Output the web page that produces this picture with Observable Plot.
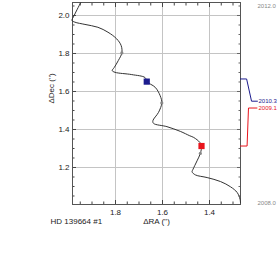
<!DOCTYPE html>
<html><head><meta charset="utf-8">
<script src="https://cdn.jsdelivr.net/npm/d3@7"></script>
<script src="https://cdn.jsdelivr.net/npm/@observablehq/plot@0.6"></script>
<style>body{margin:0;background:#fff} svg{display:block}</style>
</head><body><div id="chart"></div>
<script>
// apparent path of HD 139664 #1 (ΔRA, ΔDec in arcsec)
const pathRA  = [1.948,1.976,1.985,1.973,1.930,1.875,1.832,1.795,1.776,1.773,1.788,1.805,1.814,1.802,1.731,1.674,1.667,1.631,1.610,1.603,1.617,1.641,1.638,1.581,1.524,1.484,1.467,1.441,1.434,1.439,1.453,1.470,1.474,1.460,1.410,1.353,1.310,1.282,1.270,1.268];
const pathDec = [2.068,2.000,1.974,1.965,1.953,1.938,1.912,1.877,1.842,1.803,1.763,1.727,1.710,1.701,1.689,1.673,1.652,1.622,1.578,1.540,1.490,1.446,1.432,1.415,1.390,1.367,1.358,1.332,1.313,1.274,1.235,1.191,1.177,1.161,1.147,1.126,1.098,1.068,1.033,1.014];
// yearly markers
const yearRA  = [1.773,1.603,1.439];
const yearDec = [1.803,1.540,1.274];
// observation epochs
const epochs   = ["2010.3","2009.1"];
const epochRA  = [1.667,1.434];
const epochDec = [1.652,1.313];
const epochColors = ["#1c1c8e","#e8141c"];
const leaderStartDec = [1.666,1.313];
const leaderLabelDec = [1.549,1.513];
const leaderDRA = [[0,0.026,0.047,0.072],[0,0.028,0.034,0.070]];
// time range labels
const timeTop = "2012.0", timeBottom = "2008.0";
// axes
const xDomain = [1.98298, 1.26809];
const yDomain = [1.00526, 2.06842];
const xMajor = [1.8,1.6,1.4];
const xMinor = [1.95,1.9,1.85,1.75,1.7,1.65,1.55,1.5,1.45,1.35,1.3];
const yMajor = [1.2,1.4,1.6,1.8,2.0];
const yMinor = [1.05,1.1,1.15,1.25,1.3,1.35,1.45,1.5,1.55,1.65,1.7,1.75,1.85,1.9,1.95,2.05];
const title = "HD 139664 #1";
const xLabel = "ΔRA ('')";
const yLabel = "ΔDec ('')";

const path = pathRA.map((x,i)=>({x, y:pathDec[i]}));
const years = yearRA.map((x,i)=>({x, y:yearDec[i]}));
const marks = epochs.map((t,i)=>({t, x:epochRA[i], y:epochDec[i], c:epochColors[i]}));
const leaders = [];
epochs.forEach((t,i)=>{
  const ys = [leaderStartDec[i], leaderStartDec[i], leaderLabelDec[i], leaderLabelDec[i]];
  leaderDRA[i].forEach((d,j)=>leaders.push({t, c:epochColors[i], x:xDomain[1]-d, y:ys[j]}));
});
const labels = epochs.map((t,i)=>({t, y:leaderLabelDec[i], c:epochColors[i]}));

const W = 277, H = 269, mL = 72, mR = 37, mT = 2, mB = 65;
const font = "Liberation Sans, Arial, Helvetica, sans-serif";
const fmt = d3.format(".1f");

const chart = Plot.plot({
  width: W, height: H,
  marginLeft: mL, marginRight: mR, marginTop: mT, marginBottom: mB,
  style: {fontFamily: font, fontSize: "8px", color: "#222", background: "#fff", overflow: "visible"},
  x: {domain: xDomain, axis: null},
  y: {domain: yDomain, axis: null},
  marks: [
    Plot.gridX({ticks: xMajor, stroke: "#c4c4c4", strokeOpacity: 1}),
    Plot.gridY({ticks: yMajor, stroke: "#c4c4c4", strokeOpacity: 1}),
    // bottom / left axes with inward ticks
    Plot.axisX({ticks: xMajor, anchor: "bottom", tickSize: -4, tickPadding: 9, label: null, tickFormat: fmt, stroke: "#444", fill: "#222"}),
    Plot.axisX({ticks: xMinor, anchor: "bottom", tickSize: -2.5, label: null, tickFormat: () => "", stroke: "#444"}),
    Plot.axisY({ticks: yMajor, anchor: "left", tickSize: -4, tickPadding: 7, label: null, tickFormat: fmt, stroke: "#444", fill: "#222"}),
    Plot.axisY({ticks: yMinor, anchor: "left", tickSize: -2.5, label: null, tickFormat: () => "", stroke: "#444"}),
    // top / right inward ticks
    Plot.axisX({ticks: xMajor, anchor: "top", tickSize: -4, label: null, tickFormat: () => "", stroke: "#444"}),
    Plot.axisX({ticks: xMinor, anchor: "top", tickSize: -2.5, label: null, tickFormat: () => "", stroke: "#444"}),
    Plot.axisY({ticks: yMajor, anchor: "right", tickSize: -4, label: null, tickFormat: () => "", stroke: "#666"}),
    Plot.axisY({ticks: yMinor, anchor: "right", tickSize: -2.5, label: null, tickFormat: () => "", stroke: "#666"}),
    Plot.frame({stroke: "#555"}),
    Plot.line(path, {x: "x", y: "y", curve: "catmull-rom", stroke: "#333", strokeWidth: 1}),
    Plot.dot(years, {x: "x", y: "y", r: 1.6, fill: "#888", stroke: "none"}),
    Plot.dot(marks, {x: "x", y: "y", symbol: "square", r: 3.5, fill: "c", stroke: "none"}),
    Plot.line(leaders, {x: "x", y: "y", z: "t", stroke: "c", strokeWidth: 1}),
    Plot.text(labels, {y: "y", text: "t", fill: "c", frameAnchor: "right", dx: 18, textAnchor: "start", fontSize: 6}),
    Plot.text([timeTop], {frameAnchor: "top-right", dx: 17, dy: 1, textAnchor: "start", fontSize: 6, fill: "#888"}),
    Plot.text([timeBottom], {frameAnchor: "bottom-right", dx: 17, dy: 0, textAnchor: "start", fontSize: 6, fill: "#888"}),
    Plot.text([xLabel], {frameAnchor: "bottom", dy: 19, fontSize: 8}),
    Plot.text([title], {frameAnchor: "bottom-left", dx: -22, dy: 19, textAnchor: "start", fontSize: 8}),
    Plot.text([yLabel], {frameAnchor: "left", dx: -21, rotate: -90, fontSize: 8})
  ]
});
document.getElementById("chart").append(chart);
</script>
</body></html>
